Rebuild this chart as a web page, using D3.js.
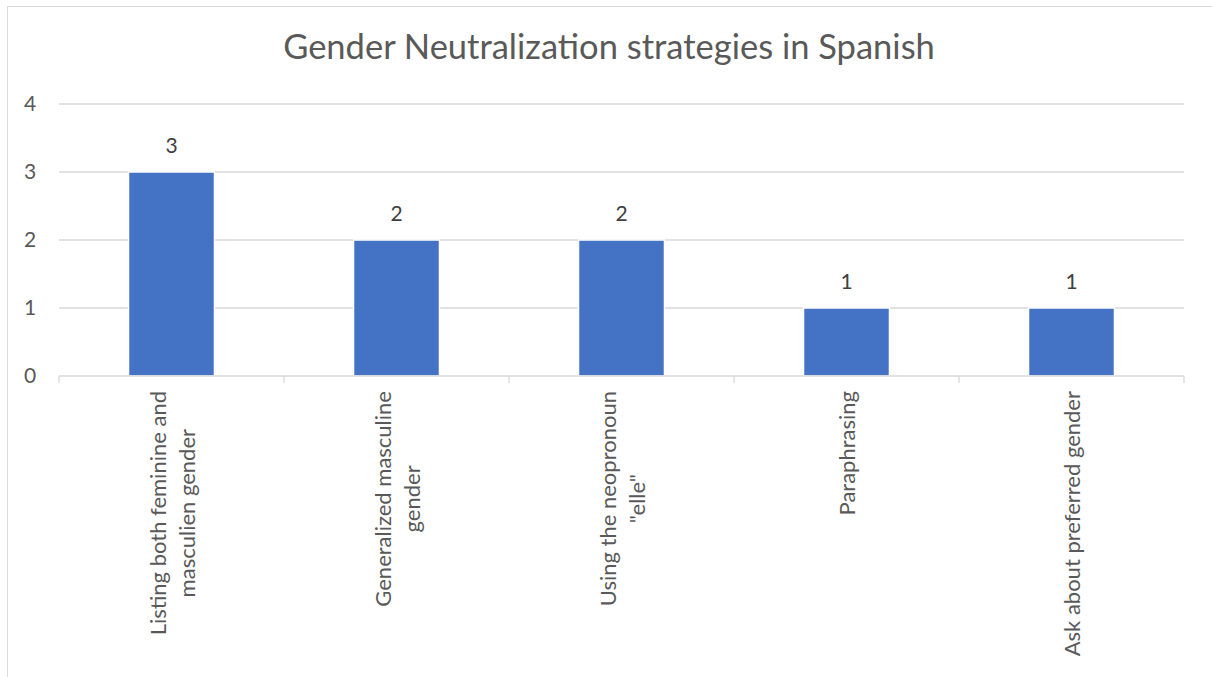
<!DOCTYPE html>
<html>
<head>
<meta charset="utf-8">
<script src="https://cdn.jsdelivr.net/npm/d3@7"></script>
<style>
  html, body { margin: 0; padding: 0; background: #fff; }
  svg { display: block; }
  text { font-family: Lato, "Open Sans", sans-serif; }
</style>
</head>
<body>
<svg id="chart" width="1212" height="677"></svg>
<script>
const title = "Gender Neutralization strategies in Spanish";
const categories = [
  ["Listing both feminine and", "masculien gender"],
  ["Generalized masculine", "gender"],
  ["Using the neopronoun", "\"elle\""],
  ["Paraphrasing"],
  ["Ask about preferred gender"]
];
const values = [3, 2, 2, 1, 1];
const yTicks = [0, 1, 2, 3, 4];

const svg = d3.select("#chart");
const W = 1212, H = 677;
const plot = { left: 59, right: 1184, top: 104, bottom: 376 };

// outer border
svg.append("rect")
  .attr("x", 7.5).attr("y", 6.5)
  .attr("width", W + 20).attr("height", H + 20)
  .attr("fill", "#fff").attr("stroke", "#D9D9D9").attr("stroke-width", 1);

const keys = categories.map((c, i) => i);
const x = d3.scaleBand().domain(keys).range([plot.left, plot.right])
  .paddingInner(0.618).paddingOuter(0.309);
const y = d3.scaleLinear().domain([0, 4]).range([plot.bottom, plot.top]);

// title
svg.append("text")
  .attr("x", 609).attr("y", 59)
  .attr("text-anchor", "middle")
  .attr("fill", "#595959")
  .style("font-size", "34.5px")
  .text(title);

// gridlines
svg.append("g").selectAll("line").data(yTicks.filter(d => d > 0)).join("line")
  .attr("x1", plot.left).attr("x2", plot.right)
  .attr("y1", d => y(d)).attr("y2", d => y(d))
  .attr("stroke", "#D9D9D9").attr("stroke-width", 1.3);

// y axis labels
svg.append("g").selectAll("text").data(yTicks).join("text")
  .attr("x", 30).attr("y", d => y(d))
  .attr("dy", "0.35em")
  .attr("text-anchor", "middle")
  .attr("fill", "#595959")
  .style("font-size", "21px")
  .text(d => d);

// bars
svg.append("g").selectAll("rect").data(values).join("rect")
  .attr("x", (d, i) => x(i))
  .attr("y", d => y(d))
  .attr("width", x.bandwidth())
  .attr("height", d => y(0) - y(d))
  .attr("fill", "#4472C4")
  .attr("stroke", "#fff").attr("stroke-width", 1.5);

// x axis line and ticks
const xAxis = d3.axisBottom(x).tickSize(0).tickFormat("");
const gx = svg.append("g").attr("transform", `translate(0,${plot.bottom})`).call(xAxis);
gx.select(".domain").remove();
svg.append("line")
  .attr("x1", plot.left).attr("x2", plot.right)
  .attr("y1", plot.bottom).attr("y2", plot.bottom)
  .attr("stroke", "#D9D9D9").attr("stroke-width", 1.3);
const bounds = keys.map(k => x(k) - x.step() * x.paddingInner() / 2).concat([plot.right]);
bounds[0] = plot.left;
svg.append("g").selectAll("line").data(bounds).join("line")
  .attr("x1", d => d).attr("x2", d => d)
  .attr("y1", plot.bottom).attr("y2", plot.bottom + 7)
  .attr("stroke", "#D9D9D9").attr("stroke-width", 1.3);

// value labels
svg.append("g").selectAll("text").data(values).join("text")
  .attr("x", (d, i) => x(i) + x.bandwidth() / 2)
  .attr("y", d => y(d) - 19)
  .attr("text-anchor", "middle")
  .attr("fill", "#404040")
  .style("font-size", "21px")
  .text(d => d);

// category labels (rotated, multi-line, centered lines, anchored at top)
const labelTop = 391;
const lineGap = 29;
categories.forEach((lines, i) => {
  const cx = x(i) + x.bandwidth() / 2;
  const g = svg.append("g");
  const texts = lines.map((ln, j) => g.append("text")
    .attr("fill", "#595959")
    .style("font-size", "22px")
    .attr("text-anchor", "middle")
    .text(ln));
  const maxW = d3.max(texts, t => t.node().getComputedTextLength());
  texts.forEach((t, j) => {
    const bx = cx + 8.5 + (j - (lines.length - 1) / 2) * lineGap;
    const by = labelTop + maxW / 2;
    t.attr("transform", `translate(${bx},${by}) rotate(-90)`);
  });
});
</script>
</body>
</html>
